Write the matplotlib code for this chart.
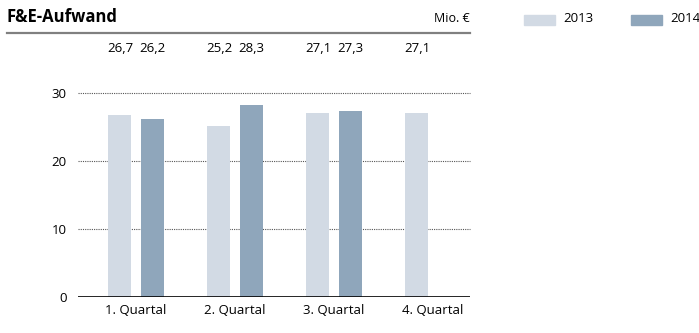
import matplotlib.pyplot as plt
import numpy as np

plt.rcParams['font.family'] = ['Open Sans', 'DejaVu Sans']

# F&E-Aufwand je Quartal, Mio. €
quartale = ['1. Quartal', '2. Quartal', '3. Quartal', '4. Quartal']
werte_2013 = [26.7, 25.2, 27.1, 27.1]
werte_2014 = [26.2, 28.3, 27.3, None]
jahre = ['2013', '2014']

farbe_2013 = '#d2dae4'
farbe_2014 = '#8fa6bb'

W, H = 699, 333
fig = plt.figure(figsize=(W / 100, H / 100), dpi=100)

# Achsenbereich in Pixeln: links 78, rechts 470, unten 297, oben 93
ax = fig.add_axes([78 / W, 1 - 297 / H, (470 - 78) / W, (297 - 93) / H])

x = np.arange(len(quartale))
breite = 0.232
versatz = 0.162

for i, v in enumerate(werte_2013):
    ax.bar(x[i] - versatz, v, breite, color=farbe_2013, zorder=2)
for i, v in enumerate(werte_2014):
    if v is not None:
        ax.bar(x[i] + versatz, v, breite, color=farbe_2014, zorder=2)

ax.set_xlim(-0.586, 3.374)
ax.set_ylim(0, 30)
ax.set_yticks([0, 10, 20, 30])
ax.set_xticks(x)
ax.set_xticklabels(quartale, fontsize=9.5)
ax.tick_params(axis='y', labelsize=9.5, length=0, pad=8)
ax.tick_params(axis='x', length=0, pad=5)

for y in [10, 20, 30]:
    ax.axhline(y, color='#555555', lw=0.8, ls=(0, (1, 1)), zorder=1, clip_on=False)
ax.axhline(0, color='black', lw=1.2, zorder=3)

for s in ax.spines.values():
    s.set_visible(False)

# Werte oberhalb der Balken in fester Höhe
yt = 1 - 48 / H
for i in range(len(quartale)):
    px = ax.transData.transform((x[i] - versatz, 0))[0] / W
    fig.text(px, yt, f'{werte_2013[i]:.1f}'.replace('.', ','), ha='center', va='center', fontsize=9.5)
    if werte_2014[i] is not None:
        px = ax.transData.transform((x[i] + versatz, 0))[0] / W
        fig.text(px, yt, f'{werte_2014[i]:.1f}'.replace('.', ','), ha='center', va='center', fontsize=9.5)

# Kopfzeile
fig.text(7 / W, 1 - 17 / H, 'F&E-Aufwand', fontsize=12, fontweight='bold', ha='left', va='center')
fig.text(470 / W, 1 - 18 / H, 'Mio. €', fontsize=9, ha='right', va='center')
fig.add_artist(plt.Line2D([7 / W, 470 / W], [1 - 33 / H, 1 - 33 / H], color='#808080', lw=1.6))

# Legende
for (x0, farbe, jahr) in [(524, farbe_2013, jahre[0]), (631, farbe_2014, jahre[1])]:
    fig.add_artist(plt.Rectangle((x0 / W, 1 - 25 / H), 31 / W, 10 / H, color=farbe))
    fig.text((x0 + 39) / W, 1 - 19 / H, jahr, fontsize=9.5, ha='left', va='center')

fig.savefig('out.png', dpi=100)
